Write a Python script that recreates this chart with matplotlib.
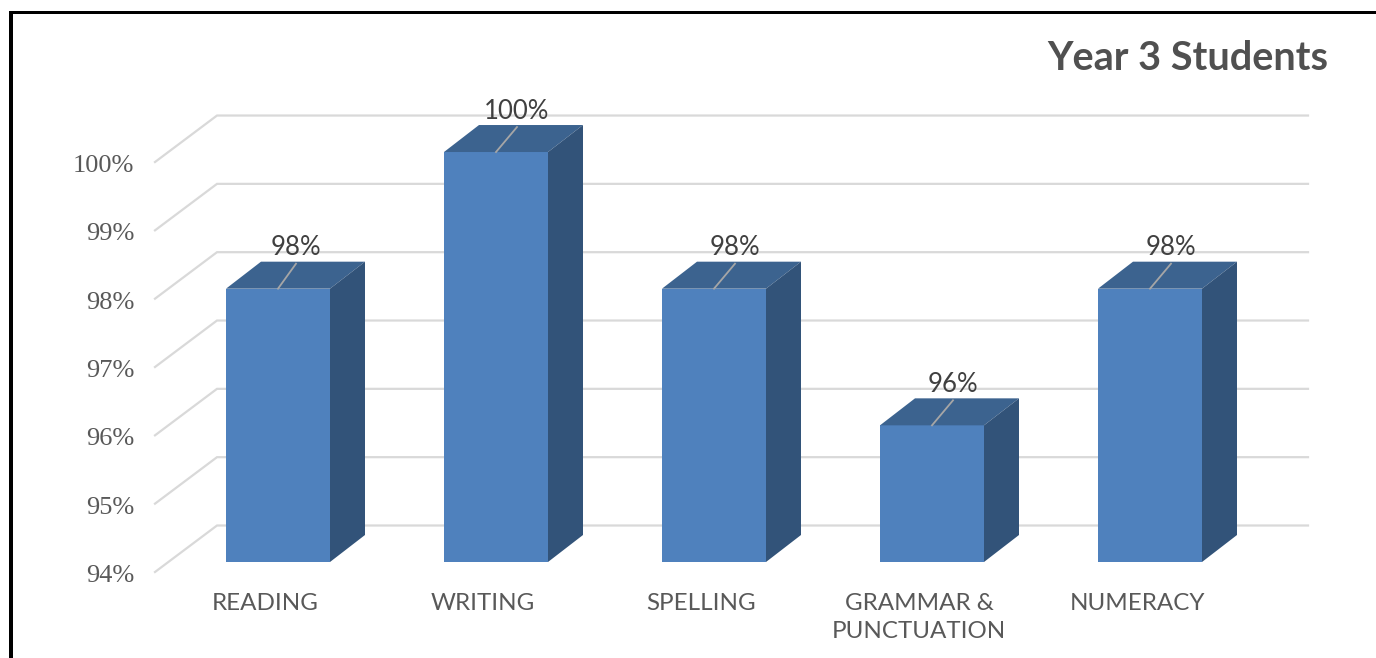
import matplotlib
matplotlib.use('Agg')
import matplotlib.pyplot as plt
from matplotlib.patches import Rectangle

categories = ['READING', 'WRITING', 'SPELLING', 'GRAMMAR &\nPUNCTUATION', 'NUMERACY']
values = [98, 100, 98, 96, 98]
y_ticks = [94, 95, 96, 97, 98, 99, 100]

FRONT = '#4f81bd'
TOP = '#3c638f'
SIDE = '#325379'
GRID = '#d9d9d9'
TICK = '#595959'
LABEL = '#404040'

# scale of the chart, pixels per category and per percent
px_x = 218.0
px_y = 68.33
bar_w = 104 / px_x
dep_x = 35 / px_x
dep_y = 27 / px_y

fig = plt.figure(figsize=(13.76, 6.58), dpi=100)
ax = fig.add_axes([0, 0, 1, 1])
ax.set_xlim(-278 / px_x, (1376 - 278) / px_x)
ax.set_ylim(94 - 96 / px_y, 94 + 562 / px_y)
ax.axis('off')

# gridlines: slanted part on the left wall, then the back wall
grid_x0 = -123 / px_x
grid_x1 = -61 / px_x
grid_x2 = 1030 / px_x
for t in y_ticks:
    ax.plot([grid_x0, grid_x1, grid_x2],
            [t - 10 / px_y, t + 36.5 / px_y, t + 36.5 / px_y],
            color=GRID, lw=1.6, zorder=1, solid_joinstyle='miter')
    ax.text(-143.5 / px_x, t - 14 / px_y, '{0}%'.format(t), ha='right', va='center',
            family='Liberation Serif', fontsize=19, color=TICK)

x_pos = list(range(len(categories)))
base = 94
# first leader is a little shorter in the original
leader_dx = [18, 21, 21, 21, 21]
for x, v, ldx in zip(x_pos, values, leader_dx):
    left = x - bar_w / 2
    right = x + bar_w / 2
    ax.bar(x, v - base, bottom=base, width=bar_w, color=FRONT, zorder=3, linewidth=0)
    ax.fill([left, right, right + dep_x, left + dep_x],
            [v, v, v + dep_y, v + dep_y], color=TOP, zorder=3, lw=0)
    ax.fill([right, right + dep_x, right + dep_x, right],
            [base, base + dep_y, v + dep_y, v], color=SIDE, zorder=3, lw=0)
    # leader line and value label
    ax.plot([x, x + ldx / px_x], [v, v + 25 / px_y], color='#a6a6a6', lw=1.3, zorder=4)
    ax.text(x + ldx / px_x, v + 28.5 / px_y, '{0}%'.format(v), ha='center', va='bottom',
            family='Lato', fontsize=18.5, color=LABEL, zorder=5)

for x, name in zip(x_pos, categories):
    ax.text(x - 13 / px_x, base - 30.5 / px_y, name, ha='center', va='top',
            family='Lato', fontsize=17.4, color=TICK, linespacing=1.45)

fig.text(1328 / 1376, 1 - 58 / 658, 'Year 3 Students', ha='right', va='center',
         family='Lato', fontweight='bold', fontsize=28.5, color='#505050')

# black frame of the slide, cut off at right and bottom
fig.add_artist(Rectangle((9 / 1376, 0), 3.5 / 1376, 1 - 11 / 658, transform=fig.transFigure,
                         color='black', lw=0))
fig.add_artist(Rectangle((9 / 1376, 1 - 14 / 658), 1 - 9 / 1376, 3 / 658, transform=fig.transFigure,
                         color='black', lw=0))

fig.savefig('out.png', dpi=100)
plt.close(fig)
